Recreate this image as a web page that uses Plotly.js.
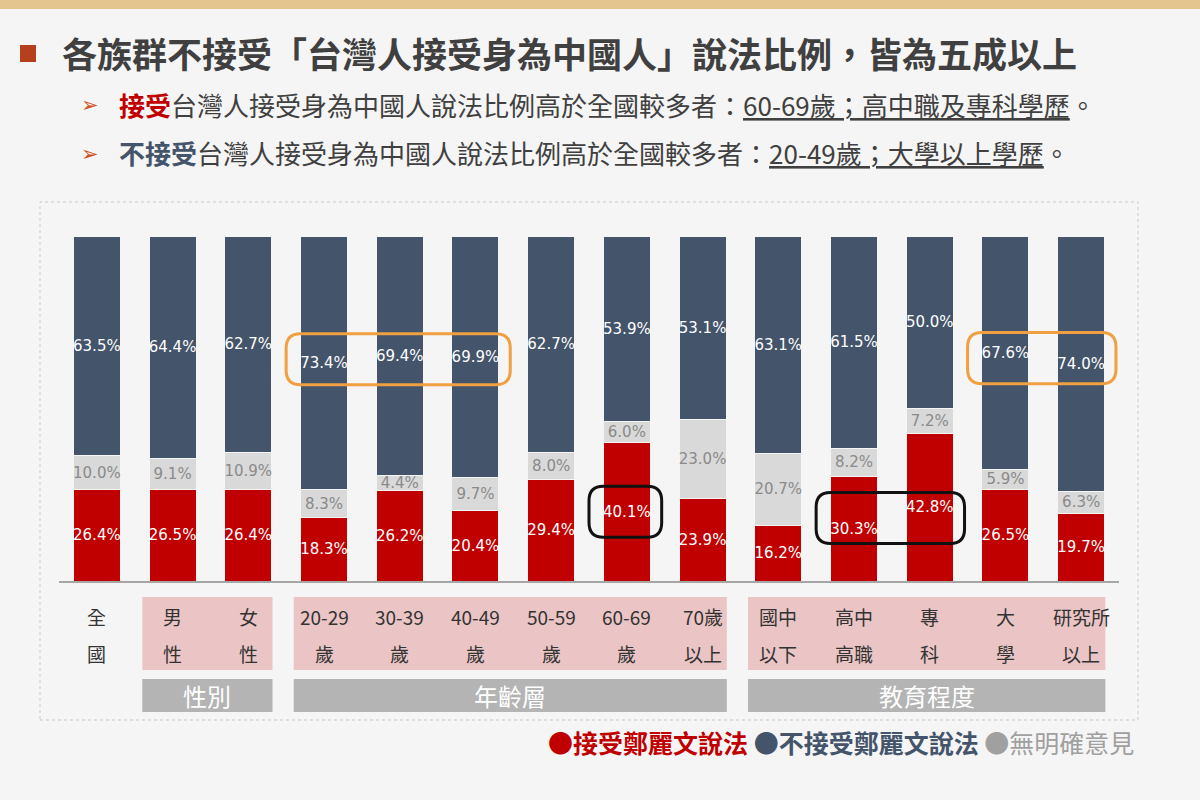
<!DOCTYPE html>
<html>
<head>
<meta charset="utf-8">
<script src="https://cdn.plot.ly/plotly-3.0.1.min.js"></script>
<style>
  html, body { margin: 0; padding: 0; background: #f5f5f5; }
  #chart { width: 1200px; height: 800px; }
</style>
</head>
<body>
<div id="chart"></div>
<script>
// ---- Data ----
const categories = ['全國', '男性', '女性', '20-29歲', '30-39歲', '40-49歲', '50-59歲', '60-69歲', '70歲以上', '國中以下', '高中高職', '專科', '大學', '研究所以上'];
const labelLine1 = ['全', '男', '女', '20-29', '30-39', '40-49', '50-59', '60-69', '70歲', '國中', '高中', '專', '大', '研究所'];
const labelLine2 = ['國', '性', '性', '歲', '歲', '歲', '歲', '歲', '以上', '以下', '高職', '科', '學', '以上'];
const acceptVals = [26.4, 26.5, 26.4, 18.3, 26.2, 20.4, 29.4, 40.1, 23.9, 16.2, 30.3, 42.8, 26.5, 19.7];
const noOpinionVals = [10.0, 9.1, 10.9, 8.3, 4.4, 9.7, 8.0, 6.0, 23.0, 20.7, 8.2, 7.2, 5.9, 6.3];
const notAcceptVals = [63.5, 64.4, 62.7, 73.4, 69.4, 69.9, 62.7, 53.9, 53.1, 63.1, 61.5, 50.0, 67.6, 74.0];
const seriesNames = ['接受鄭麗文說法', '無明確意見', '不接受鄭麗文說法'];
const groupNames = ['性別', '年齡層', '教育程度'];
const groupFrom = [1, 3, 9];
const groupTo = [2, 8, 13];
const orangeHighlights = [[3, 5, 'notAccept'], [12, 13, 'notAccept']];
const blackHighlights = [[7, 7, 'accept'], [10, 11, 'accept']];

// ---- Styles ----
const RED = '#c00000', GRAY = '#d9d9d9', NAVY = '#44546a';
const CJK = '"Noto Sans CJK TC", "Noto Sans", sans-serif';
const LBL = '"DejaVu Sans", sans-serif';
const fmt = v => v.toFixed(1) + '%';

function barTrace(name, vals, color, textColor) {
  return {
    type: 'bar', name: name, x: categories, y: vals,
    marker: { color: color, line: { color: '#f5f5f5', width: 1 } },
    text: vals.map(fmt), textposition: 'inside', insidetextanchor: 'middle',
    textangle: 0, constraintext: 'none',
    textfont: { family: LBL, size: 15, color: textColor },
    hoverinfo: 'x+name+text'
  };
}
const traces = [
  barTrace(seriesNames[0], acceptVals, RED, '#ffffff'),
  barTrace(seriesNames[1], noOpinionVals, GRAY, '#8a8a8a'),
  barTrace(seriesNames[2], notAcceptVals, NAVY, '#ffffff')
];

// pixel helpers for layout (plot area: x 59..1119, y 236..581)
const L = 59, R = 1119, T = 236, B = 581;
const px = p => (p - L) / (R - L);
const py = p => (B - p) / (B - T);

const shapes = [];
const annotations = [];

// top stripe
shapes.push({ type: 'rect', xref: 'paper', yref: 'paper', x0: px(0), x1: px(1200), y0: py(0), y1: py(9), fillcolor: '#e4c48f', line: { width: 0 }, layer: 'below' });
// title bullet
shapes.push({ type: 'rect', xref: 'paper', yref: 'paper', x0: px(20), x1: px(36), y0: py(62), y1: py(45), fillcolor: '#b5401d', line: { width: 0 } });
// chart frame
shapes.push({ type: 'rect', xref: 'paper', yref: 'paper', x0: px(40), x1: px(1138), y0: py(720), y1: py(202), line: { color: '#c9c9c9', width: 1, dash: 'dot' }, layer: 'below' });

// group boxes
for (let g = 0; g < groupNames.length; g++) {
  const x0 = groupFrom[g] - 0.4, x1 = groupTo[g] + 0.32;
  shapes.push({ type: 'rect', xref: 'x', yref: 'paper', x0: x0, x1: x1, y0: py(670), y1: py(597), fillcolor: '#ebc5c5', line: { width: 0 }, layer: 'below' });
  shapes.push({ type: 'rect', xref: 'x', yref: 'paper', x0: x0, x1: x1, y0: py(712), y1: py(679), fillcolor: '#b4b4b4', line: { width: 0 }, layer: 'below' });
  annotations.push({ xref: 'x', yref: 'paper', x: (x0 + x1) / 2, y: py(695), text: groupNames[g], showarrow: false, xanchor: 'center', yanchor: 'middle', font: { family: CJK, size: 24, color: '#ffffff' } });
}

// category labels
for (let i = 0; i < categories.length; i++) {
  annotations.push({ xref: 'x', yref: 'paper', x: i, y: py(616), text: labelLine1[i], showarrow: false, xanchor: 'center', yanchor: 'middle', font: { family: CJK, size: 19, color: '#333333' } });
  annotations.push({ xref: 'x', yref: 'paper', x: i, y: py(653), text: labelLine2[i], showarrow: false, xanchor: 'center', yanchor: 'middle', font: { family: CJK, size: 19, color: '#333333' } });
}

// rounded highlight boxes (built from segment midpoints)
function segMid(i, which) {
  if (which === 'accept') return acceptVals[i] / 2;
  const base = acceptVals[i] + noOpinionVals[i];
  return base + notAcceptVals[i] / 2;
}
function roundRect(x0, x1, y0, y1, color) {
  const rx = 0.19, ry = 4.2;
  const d = `M${x0 + rx},${y0} L${x1 - rx},${y0} Q${x1},${y0} ${x1},${y0 + ry} L${x1},${y1 - ry} Q${x1},${y1} ${x1 - rx},${y1} L${x0 + rx},${y1} Q${x0},${y1} ${x0},${y1 - ry} L${x0},${y0 + ry} Q${x0},${y0} ${x0 + rx},${y0} Z`;
  return { type: 'path', xref: 'x', yref: 'y', path: d, line: { color: color, width: 3 } };
}
function highlight(h, color) {
  const mids = [];
  for (let i = h[0]; i <= h[1]; i++) mids.push(segMid(i, h[2]));
  const c = (Math.min(...mids) + Math.max(...mids)) / 2;
  return roundRect(h[0] - 0.5, h[1] + 0.46, c - 7.4, c + 7.4, color);
}
orangeHighlights.forEach(h => shapes.push(highlight(h, '#f0a040')));
blackHighlights.forEach(h => shapes.push(highlight(h, '#111111')));

// title and bullets
annotations.push({ xref: 'paper', yref: 'paper', x: px(60), y: py(53), xanchor: 'left', yanchor: 'middle', showarrow: false,
  text: '<b>各族群不接受「台灣人接受身為中國人」說法比例，皆為五成以上</b>', font: { family: CJK, size: 35, color: '#404040' } });
annotations.push({ xref: 'paper', yref: 'paper', x: px(79), y: py(105), xanchor: 'left', yanchor: 'middle', showarrow: false,
  text: '➢', font: { family: '"DejaVu Sans"', size: 21, color: '#d2511e' } });
annotations.push({ xref: 'paper', yref: 'paper', x: px(79), y: py(154), xanchor: 'left', yanchor: 'middle', showarrow: false,
  text: '➢', font: { family: '"DejaVu Sans"', size: 21, color: '#d2511e' } });
annotations.push({ xref: 'paper', yref: 'paper', x: px(117), y: py(104), xanchor: 'left', yanchor: 'middle', showarrow: false,
  text: '<b><span style="color:#c00000">接受</span></b>台灣人接受身為中國人說法比例高於全國較多者：<u>60-69歲；高中職及專科學歷</u>。',
  font: { family: CJK, size: 26, color: '#404040' } });
annotations.push({ xref: 'paper', yref: 'paper', x: px(117), y: py(153), xanchor: 'left', yanchor: 'middle', showarrow: false,
  text: '<b><span style="color:#44546a">不接受</span></b>台灣人接受身為中國人說法比例高於全國較多者：<u>20-49歲；大學以上學歷</u>。',
  font: { family: CJK, size: 26, color: '#404040' } });

// legend text
annotations.push({ xref: 'paper', yref: 'paper', x: px(1136), y: py(742), xanchor: 'right', yanchor: 'middle', showarrow: false,
  text: '<b><span style="color:' + RED + '">●' + seriesNames[0] + '</span> <span style="color:' + NAVY + '">●' + seriesNames[2] + '</span></b> <span style="color:#a0a0a0">●' + seriesNames[1] + '</span>',
  font: { family: CJK, size: 25, color: '#404040' } });

const layout = {
  width: 1200, height: 800,
  margin: { l: L, r: 1200 - R, t: T, b: 800 - B, pad: 0 },
  paper_bgcolor: '#f5f5f5', plot_bgcolor: '#f5f5f5',
  barmode: 'stack', barnorm: 'percent', bargap: 0.38,
  showlegend: false,
  font: { family: CJK },
  xaxis: { type: 'category', range: [-0.5, 13.5], showticklabels: false, ticks: '', showgrid: false, zeroline: false,
           showline: true, linecolor: '#a6a6a6', linewidth: 2, fixedrange: true },
  yaxis: { range: [0, 100], visible: false, showgrid: false, zeroline: false, fixedrange: true },
  shapes: shapes, annotations: annotations
};

Plotly.newPlot('chart', traces, layout, { displayModeBar: false, staticPlot: true });
</script>
</body>
</html>
